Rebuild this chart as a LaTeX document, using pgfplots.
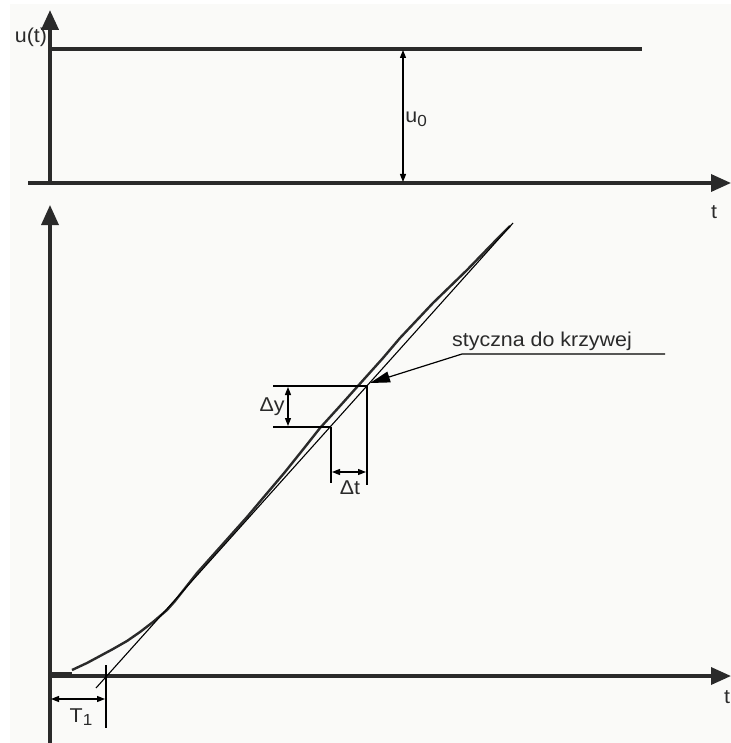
\documentclass[border=0pt]{standalone}
\usepackage{fontspec}
\setmainfont{Liberation Sans}
\usepackage{graphicx}
\usepackage{pgfplots}
\pgfplotsset{compat=1.18}
\usetikzlibrary{arrows.meta}
\definecolor{bg}{HTML}{FAFAF8}
\definecolor{ax}{HTML}{2A2A2A}
\definecolor{thin}{HTML}{505050}
% labels are a little stretched sideways, as in the scanned original
\newcommand{\lab}[1]{\scalebox{1.07}[1]{\fontsize{10}{12}\selectfont #1}}
\newcommand{\sub}[1]{\raisebox{-0.35ex}{\fontsize{8}{9}\selectfont #1}}
\begin{document}
\begin{tikzpicture}
\begin{axis}[
  scale only axis, width=365.5pt, height=371.5pt,
  xmin=0, xmax=731, ymin=0, ymax=743, y dir=reverse,
  hide axis, clip=true, no markers,
  bigtip/.style={-{Triangle[length=10pt,width=8.5pt]}},
  dim/.style={thin, line width=0.6pt, {Triangle[length=4pt,width=3pt]}-{Triangle[length=4pt,width=3pt]}},
]
\fill[bg] (axis cs:10,4) rectangle (axis cs:731,743);
\path (axis cs:0,0) rectangle (axis cs:731,743);

% ---- u(t): step input
\addplot[ax, line width=1.7pt, bigtip] coordinates {(28,183) (731,183)};
\addplot[ax, line width=2pt, bigtip] coordinates {(50,184) (50,10)};
\addplot[ax, line width=1.8pt] coordinates {(50,49) (642,49)};
\addplot[dim] coordinates {(403,50) (403,182)};
\node[text=ax, inner sep=0pt] at (axis cs:31,37) {\lab{u(t)}};
\node[text=ax, inner sep=0pt, anchor=west] at (axis cs:405,119) {\lab{u\sub{0}}};
\node[text=ax, inner sep=0pt] at (axis cs:714,212) {\lab{t}};

% ---- y(t): response
\addplot[ax, line width=1.7pt, bigtip] coordinates {(50,743) (50,205)};
\addplot[ax, line width=1.7pt, bigtip] coordinates {(50,676) (731,676)};
\addplot[ax, line width=2.6pt] coordinates {(50,675) (72,675)};
\addplot[ax, line width=1.2pt] coordinates {
  (72,670) (87,663) (100,656) (113,649) (127,641) (140,632) (153,622)
  (167,610) (175,601) (197,573) (222,545) (247,517) (263,498) (285,472)
  (305,447) (320,428) (340,406) (357,387) (383,358) (400,338) (433,303)
  (467,270) (500,236) (510,226)};
% tangent
\addplot[thin, line width=0.55pt] coordinates {(96,688) (513,223)};

% delta y
\addplot[thin, line width=0.6pt] coordinates {(273,386) (367,386)};
\addplot[thin, line width=0.6pt] coordinates {(273,427) (331,427)};
\addplot[dim] coordinates {(288,387) (288,426)};
\node[text=ax, inner sep=0pt, anchor=east] at (axis cs:285,407) {\lab{Δy}};
% delta t
\addplot[thin, line width=0.6pt] coordinates {(331,427) (331,483)};
\addplot[thin, line width=0.6pt] coordinates {(367,386) (367,485)};
\addplot[dim] coordinates {(332,472) (366,472)};
\node[text=ax, inner sep=0pt] at (axis cs:350,488) {\lab{Δt}};

% annotation
\addplot[thin, line width=0.6pt, -{Triangle[length=10pt,width=5.5pt]}]
  coordinates {(665,354) (462,354) (370,383)};
\node[text=ax, inner sep=0pt] at (axis cs:542,341) {\lab{styczna do krzywej}};

% T1
\addplot[thin, line width=0.6pt] coordinates {(106,665) (106,728)};
\addplot[dim] coordinates {(51,699) (105,699)};
\node[text=ax, inner sep=0pt] at (axis cs:81,717) {\lab{T\sub{1}}};
\node[text=ax, inner sep=0pt] at (axis cs:727,697) {\lab{t}};
\end{axis}
\end{tikzpicture}
\end{document}
